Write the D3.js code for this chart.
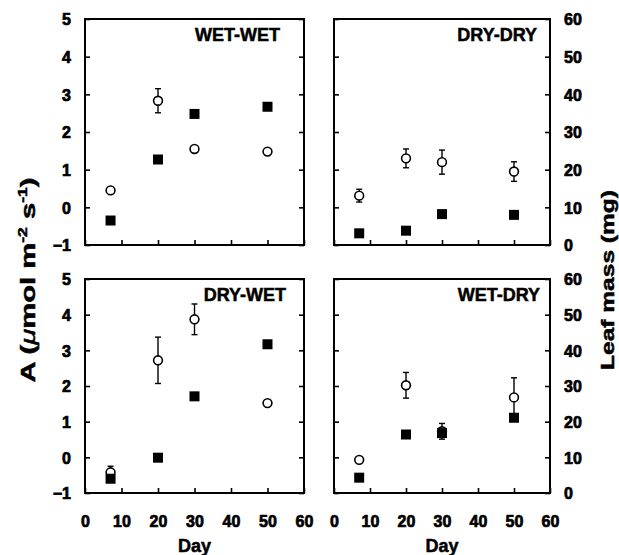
<!DOCTYPE html>
<html>
<head>
<meta charset="utf-8">
<script src="https://cdn.jsdelivr.net/npm/d3@7"></script>
<style>
  body { margin: 0; background: #fff; }
  svg { display: block; }
  text { font-family: "Liberation Sans", Arial, sans-serif; font-weight: bold; fill: #000; stroke: #000; stroke-width: 0.5px; }
</style>
</head>
<body>
<div id="chart"></div>
<script>
// sampling days
const days = [7, 20, 30, 50];
const treatments = ["WET-WET", "DRY-DRY", "DRY-WET", "WET-DRY"];

// photosynthesis A (umol m-2 s-1), open circles, left axis
const photoWetWet = [0.45, 2.83, 1.55, 1.48];
const photoDryDry = [0.31, 1.30, 1.20, 0.95];
const photoDryWet = [-0.42, 2.72, 3.87, 1.52];
const photoWetDry = [-0.07, 2.02, 0.73, 1.68];
// error bars for A
const errWetWet = [0.08, 0.32, 0.08, 0.08];
const errDryDry = [0.17, 0.25, 0.32, 0.26];
const errDryWet = [0.17, 0.65, 0.43, 0.08];
const errWetDry = [0.08, 0.36, 0.22, 0.55];
// leaf mass (mg), filled squares, right axis
const massWetWet = [6.5, 22.7, 34.8, 36.7];
const massDryDry = [3.1, 3.8, 8.2, 8.0];
const massDryWet = [4.0, 9.9, 27.1, 41.7];
const massWetDry = [4.3, 16.4, 16.8, 21.1];

const dayTicks = [0, 10, 20, 30, 40, 50, 60];
const aTicks = [-1, 0, 1, 2, 3, 4, 5];
const massTicks = [0, 10, 20, 30, 40, 50, 60];

const photo = [photoWetWet, photoDryDry, photoDryWet, photoWetDry];
const errs = [errWetWet, errDryDry, errDryWet, errWetDry];
const mass = [massWetWet, massDryDry, massDryWet, massWetDry];

const W = 619, H = 555;
const svg = d3.select("#chart").append("svg")
    .attr("width", W)
    .attr("height", H);

// panel frames: col 0 left, col 1 right; row 0 top, row 1 bottom
const colX = [[85, 304], [334, 550]];
const rowY = [[19, 245], [279, 493]];
const labelInset = [24, 13, 18, 10];

treatments.forEach((name, i) => {
    let col = i % 2, row = Math.floor(i / 2);
    let [x0, x1] = colX[col];
    let [y0, y1] = rowY[row];

    let x = d3.scaleLinear().domain([0, 60]).range([x0, x1]);
    let yA = d3.scaleLinear().domain([-1, 5]).range([y1, y0]);
    let yM = d3.scaleLinear().domain([0, 60]).range([y1, y0]);

    let g = svg.append("g");

    // y ticks on left side
    let left = g.append("g")
        .attr("transform", "translate(" + x0 + ",0)")
        .call(d3.axisLeft(col == 0 ? yA : yM)
            .tickValues(col == 0 ? aTicks : massTicks)
            .tickSize(-5)
            .tickPadding(14)
            .tickFormat(col == 0 ? d3.format("d") : ""));
    // y ticks on right side
    let right = g.append("g")
        .attr("transform", "translate(" + x1 + ",0)")
        .call(d3.axisRight(col == 0 ? yA : yM)
            .tickValues(col == 0 ? aTicks : massTicks)
            .tickSize(-5)
            .tickPadding(14)
            .tickFormat(col == 1 ? d3.format("d") : ""));
    // x ticks
    let bottom = g.append("g")
        .attr("transform", "translate(0," + y1 + ")")
        .call(d3.axisBottom(x)
            .tickValues(dayTicks)
            .tickSize(-5)
            .tickPadding(23)
            .tickFormat(row == 1 ? d3.format("d") : ""));

    [left, right, bottom].forEach(a => {
        a.attr("font-family", null).attr("font-size", null).attr("fill", null);
        a.select(".domain").remove();
        a.selectAll("line").attr("stroke", "#000").attr("stroke-width", 1.6);
        a.selectAll("text")
            .attr("fill", null)
            .style("font-size", "16px")
            .style("font-weight", "700")
            .style("stroke", "#000")
            .style("stroke-width", "0.7px");
    });
    left.selectAll("text").attr("dy", "0.36em");
    right.selectAll("text").attr("dy", "0.36em");

    g.append("rect")
        .attr("x", x0).attr("y", y0)
        .attr("width", x1 - x0).attr("height", y1 - y0)
        .attr("fill", "none")
        .attr("stroke", "#000")
        .attr("stroke-width", 2);

    g.append("text")
        .attr("x", x1 - labelInset[i])
        .attr("y", y0 + 22)
        .attr("text-anchor", "end")
        .style("font-size", "18px")
        .text(name);

    let pts = days.map((d, j) => ({day: d, a: photo[i][j], e: errs[i][j], m: mass[i][j]}));

    // error bars
    let eb = g.append("g").attr("stroke", "#000").attr("stroke-width", 1.4);
    eb.selectAll(".bar").data(pts).join("line")
        .attr("x1", d => x(d.day)).attr("x2", d => x(d.day))
        .attr("y1", d => yA(d.a - d.e)).attr("y2", d => yA(d.a + d.e));
    eb.selectAll(".capTop").data(pts).join("line")
        .attr("x1", d => x(d.day) - 3).attr("x2", d => x(d.day) + 3)
        .attr("y1", d => yA(d.a + d.e)).attr("y2", d => yA(d.a + d.e));
    eb.selectAll(".capBot").data(pts).join("line")
        .attr("x1", d => x(d.day) - 3).attr("x2", d => x(d.day) + 3)
        .attr("y1", d => yA(d.a - d.e)).attr("y2", d => yA(d.a - d.e));

    // open circles: A
    g.append("g").selectAll("circle").data(pts).join("circle")
        .attr("cx", d => x(d.day))
        .attr("cy", d => yA(d.a))
        .attr("r", 4.4)
        .attr("fill", "#fff")
        .attr("stroke", "#000")
        .attr("stroke-width", 1.6);

    // filled squares: leaf mass
    g.append("g").selectAll("rect").data(pts).join("rect")
        .attr("x", d => x(d.day) - 5)
        .attr("y", d => yM(d.m) - 5)
        .attr("width", 10)
        .attr("height", 10)
        .attr("fill", "#000");

    if (row == 1) {
        g.append("text")
            .attr("x", (x0 + x1) / 2)
            .attr("y", 552)
            .attr("text-anchor", "middle")
            .style("font-size", "18px")
            .text("Day");
    }
});

// left axis title
let ta = svg.append("text")
    .attr("transform", "translate(35,280) rotate(-90)")
    .attr("text-anchor", "middle")
    .attr("textLength", 205)
    .attr("lengthAdjust", "spacingAndGlyphs")
    .style("font-size", "20px");
ta.append("tspan").text("A (");
ta.append("tspan").style("font-style", "italic").style("font-weight", "normal").text("\u03bc");
ta.append("tspan").text("mol m");
ta.append("tspan").attr("dy", -8).style("font-size", "12px").text("-2");
ta.append("tspan").attr("dy", 8).text(" s");
ta.append("tspan").attr("dy", -8).style("font-size", "12px").text("-1");
ta.append("tspan").attr("dy", 8).text(")");

// right axis title
svg.append("text")
    .attr("transform", "translate(614,280) rotate(-90)")
    .attr("text-anchor", "middle")
    .attr("textLength", 180)
    .attr("lengthAdjust", "spacingAndGlyphs")
    .style("font-size", "19px")
    .text("Leaf mass (mg)");
</script>
</body>
</html>
